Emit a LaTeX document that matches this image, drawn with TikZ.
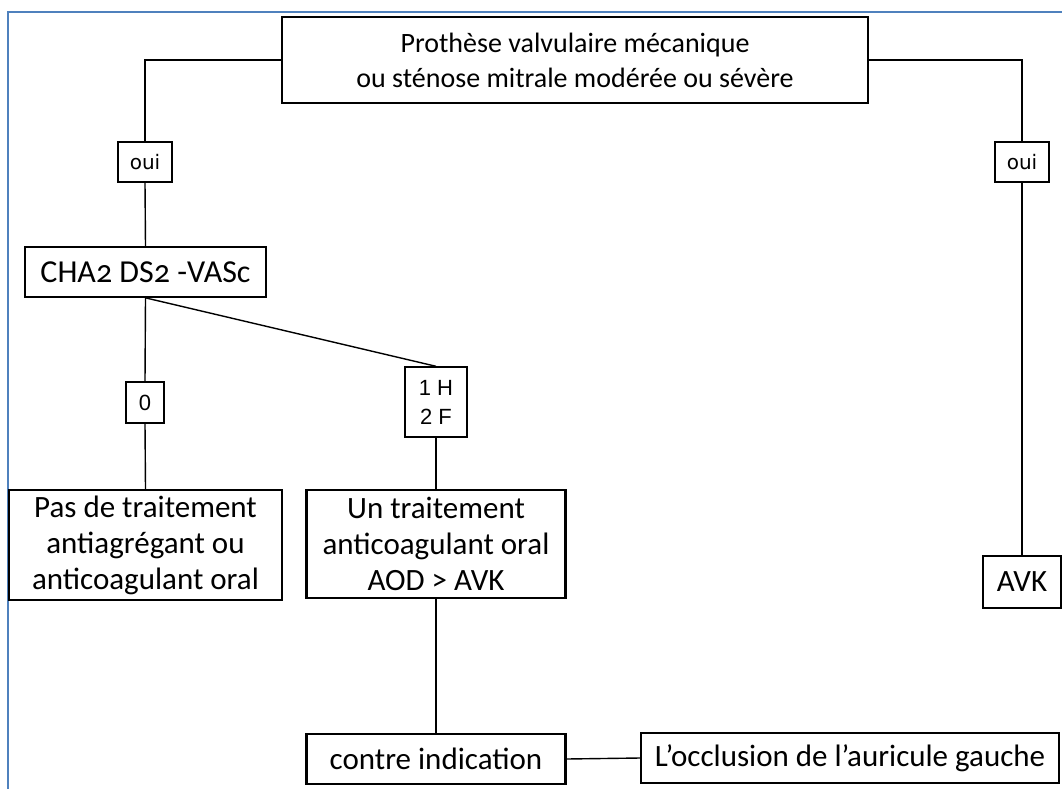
\documentclass[tikz,border=0pt]{standalone}
\usepackage{fontspec}
\setmainfont{Carlito}
\newfontfamily\arialfont{Liberation Sans}
\newfontfamily\tahomafont{DejaVu Sans}
\newfontfamily\calold{Carlito}[Numbers=OldStyle]
\usetikzlibrary{positioning}

\definecolor{cadrebleu}{RGB}{79,129,189}

\begin{document}
\begin{tikzpicture}[x=1pt, y=-1pt,
    boite/.style = {rectangle, draw=black, line width=2pt, align=center, inner sep=0pt,
                    font=\fontsize{31}{36}\selectfont},
    etiq/.style  = {rectangle, draw=black, line width=1.4pt, align=center, inner sep=0pt,
                    font=\arialfont\fontsize{22}{29}\selectfont},
    oui/.style   = {etiq, font=\tahomafont\fontsize{20}{22}\selectfont,
                    minimum width=54pt, minimum height=40pt},
    lien/.style  = {line width=1.4pt, black},
    cadre/.style = {line width=2pt, cadrebleu},
]

\useasboundingbox (0,0) rectangle (1062,789);

% Cadre
\draw[cadre] (8,789) -- (8,12) -- (1062,12);

% Question de depart
\node[boite, line width=1.6pt, font=\fontsize{28}{35}\selectfont,
      minimum width=586pt, minimum height=86pt] (prothese) at (575,60)
    {Prothèse valvulaire mécanique\\ou sténose mitrale modérée ou sévère};

% Reponses
\node[oui] (ouiG) at (145,162) {oui};
\node[oui] (ouiD) at (1022,162) {oui};

% Score
\node[boite, line width=1.7pt, font=\calold\fontsize{32}{36}\selectfont,
      minimum width=241pt, minimum height=50pt] (score) at (145.5,272) {CHA2 DS2 -VASc};

\node[etiq, minimum width=38pt, minimum height=41pt] (zero) at (145,402.5) {0};
\node[etiq, minimum width=62pt, minimum height=70pt] (unh) at (436,402) {1 H\\2 F};

% Traitements
\node[boite, line width=2.5pt, minimum width=273pt, minimum height=110pt] (pas) at (145.5,545)
    {Pas de traitement\\antiagrégant ou\\anticoagulant oral};
\node[boite, line width=2.5pt, minimum width=259pt, minimum height=108pt] (un) at (436,544)
    {Un traitement\\anticoagulant oral\\AOD > AVK};
\node[boite, line width=2.3pt, minimum width=78pt, minimum height=52pt] (avk) at (1022,582) {AVK};

\node[boite, line width=2.3pt, minimum width=259pt, minimum height=50pt] (contre) at (436,759) {contre indication};
\node[boite, minimum width=418pt, minimum height=50pt] (occl) at (850,758) {L’occlusion de l’auricule gauche};

% Liens
\draw[lien] (prothese.west) -| (ouiG.north);
\draw[lien] (prothese.east) -| (ouiD.north);
\draw[lien] (ouiG.south) -- (score.north);
\draw[lien] (ouiD.south) -- (avk.north);
\draw[lien] (score.south) -- (zero.north);
\draw[lien] (score.south) -- (unh.north);
\draw[lien] (zero.south) -- (pas.north);
\draw[lien] (unh.south) -- (un.north);
\draw[lien] (un.south) -- (contre.north);
\draw[lien] (contre.east) -- (occl.west);

\end{tikzpicture}
\end{document}
